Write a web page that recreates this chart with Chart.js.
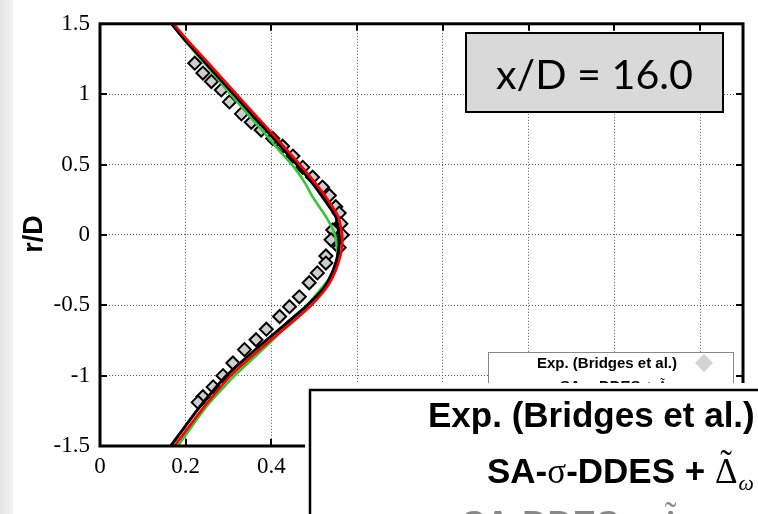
<!DOCTYPE html>
<html>
<head>
<meta charset="utf-8">
<script src="https://cdn.jsdelivr.net/npm/chart.js@4.4.1/dist/chart.umd.min.js"></script>
<style>
  html, body { margin:0; padding:0; background:#fff; }
  #wrap { position:relative; width:758px; height:514px; }
</style>
</head>
<body>
<div id="wrap"><canvas id="ch_perfil"></canvas></div>
<script>
// perfil radial a x/D = 16.0  (x = valor, y = r/D)
const rExp = [1.22, 1.15, 1.09, 1.03, 0.945, 0.86, 0.80, 0.745, 0.685, 0.63, 0.56, 0.48, 0.41, 0.34, 0.28, 0.2, 0.155, 0.08, 0.035, 0.0,
              -0.035, -0.09, -0.15, -0.2, -0.27, -0.34, -0.44, -0.51, -0.58, -0.67, -0.745, -0.815, -0.91, -1.0, -1.08, -1.15, -1.19];
const uExp = [0.221, 0.24, 0.26, 0.283, 0.302, 0.33, 0.353, 0.376, 0.403, 0.426, 0.45, 0.473, 0.496, 0.519, 0.535, 0.55, 0.558, 0.562, 0.543, 0.565,
              0.539, 0.558, 0.527, 0.527, 0.507, 0.488, 0.465, 0.442, 0.419, 0.388, 0.364, 0.337, 0.31, 0.287, 0.264, 0.24, 0.229];

const rSim   = [1.55, 1.5, 1.38, 1.19, 0.98, 0.85, 0.72, 0.6, 0.48, 0.37, 0.27, 0.13, 0.0, -0.1, -0.2, -0.3, -0.39, -0.51, -0.63, -0.79, -1.0, -1.22, -1.5, -1.55];
const uBlack = [0.155, 0.167, 0.2, 0.256, 0.318, 0.356, 0.395, 0.43, 0.465, 0.495, 0.519, 0.55, 0.558, 0.557, 0.55, 0.537, 0.519, 0.48, 0.434, 0.372, 0.295, 0.233, 0.165, 0.153];
const uRed   = [0.16, 0.172, 0.205, 0.262, 0.324, 0.363, 0.402, 0.437, 0.472, 0.502, 0.527, 0.556, 0.565, 0.564, 0.556, 0.543, 0.525, 0.49, 0.445, 0.382, 0.305, 0.243, 0.174, 0.162];

const rSigma = [1.55, 1.5, 1.38, 1.19, 0.98, 0.72, 0.6, 0.48, 0.37, 0.27, 0.13, 0.01, -0.1, -0.2, -0.33, -0.44, -0.53, -0.58, -0.63, -0.79, -1.0, -1.22, -1.48, -1.55];
const uSigma = [0.155, 0.167, 0.198, 0.252, 0.31, 0.385, 0.418, 0.453, 0.478, 0.496, 0.527, 0.547, 0.553, 0.553, 0.53, 0.5, 0.477, 0.463, 0.442, 0.388, 0.314, 0.248, 0.186, 0.17];

const xTicks = [0, 0.2, 0.4, 0.6, 0.8, 1.0, 1.2, 1.4];
const yTicks = [-1.5, -1, -0.5, 0, 0.5, 1, 1.5];

const pts = (us, rs) => us.map((u, i) => ({ x:u, y:rs[i] }));
const SERIF = 'Liberation Serif';
const SANS  = 'Liberation Sans';

// tilde sobre la Delta + subindice omega
function deltaTilde(ctx, x, y, size, color){
  ctx.fillStyle = color;
  ctx.font = `${size}px ${SERIF}`;
  const w = ctx.measureText('\u0394').width;
  ctx.fillText('\u0394', x, y);
  ctx.textAlign = 'center';
  ctx.fillText('\u02DC', x + w/2, y - size*0.22);
  ctx.textAlign = 'left';
  ctx.font = `italic ${size*0.62}px ${SERIF}`;
  ctx.fillText('\u03C9', x + w + 1, y + size*0.2);
}

function legendRow(ctx, x, y, size, color){
  let cx = x;
  ctx.fillStyle = color;
  ctx.textAlign = 'left';
  ctx.font = `bold ${size}px ${SANS}`;
  ctx.fillText('SA-', cx, y); cx += ctx.measureText('SA-').width;
  ctx.font = `${size}px ${SERIF}`;
  ctx.fillText('\u03C3', cx, y); cx += ctx.measureText('\u03C3').width;
  ctx.font = `bold ${size}px ${SANS}`;
  ctx.fillText('-DDES + ', cx, y); cx += ctx.measureText('-DDES + ').width;
  deltaTilde(ctx, cx, y, size, color);
}

const decor = {
  id:'decor',
  beforeDraw(c){
    const { ctx } = c;
    ctx.save();
    const g = ctx.createLinearGradient(0, 0, 13, 0);
    g.addColorStop(0, '#e4e4e4'); g.addColorStop(1, '#f3f3f3');
    ctx.fillStyle = g;
    ctx.fillRect(0, 0, 13, c.height);
    ctx.restore();
  },
  afterDatasetsDraw(c){
    const { ctx, chartArea:a, scales } = c;
    ctx.save();
    ctx.strokeStyle = '#000';
    ctx.lineWidth = 2;
    xTicks.forEach(v => {
      const px = Math.round(scales.x.getPixelForValue(v));
      ctx.beginPath();
      ctx.moveTo(px, a.bottom); ctx.lineTo(px, a.bottom - 7);
      ctx.moveTo(px, a.top);    ctx.lineTo(px, a.top + 7);
      ctx.stroke();
    });
    yTicks.forEach(v => {
      const py = Math.round(scales.y.getPixelForValue(v));
      ctx.beginPath();
      ctx.moveTo(a.left, py);  ctx.lineTo(a.left + 7, py);
      ctx.moveTo(a.right, py); ctx.lineTo(a.right - 7, py);
      ctx.stroke();
    });
    ctx.lineWidth = 3;
    ctx.strokeRect(a.left, a.top, a.right - a.left, a.bottom - a.top);
    ctx.restore();
  },
  afterDraw(c){
    const { ctx } = c;
    ctx.save();

    // titulo eje y
    ctx.translate(42, 234);
    ctx.rotate(-Math.PI/2);
    ctx.fillStyle = '#000';
    ctx.font = `bold 27px ${SANS}`;
    ctx.textAlign = 'center';
    ctx.fillText('r/D', 0, 0);
    ctx.setTransform(1, 0, 0, 1, 0, 0);

    // caja x/D
    ctx.fillStyle = '#d9d9d9';
    ctx.fillRect(466, 33, 257, 79);
    ctx.strokeStyle = '#000';
    ctx.lineWidth = 2;
    ctx.strokeRect(466, 33, 257, 79);
    const lbl = 'x/D = 16.0';
    ctx.font = `100px Lato`;
    const fs = 100 * 197 / ctx.measureText(lbl).width;
    ctx.font = `${fs}px Lato`;
    ctx.fillStyle = '#000';
    ctx.textAlign = 'center';
    ctx.fillText(lbl, 594.5, 89);

    // leyenda chica
    ctx.fillStyle = '#fff';
    ctx.fillRect(488, 352, 245, 40);
    ctx.strokeStyle = '#888';
    ctx.lineWidth = 1;
    ctx.strokeRect(488.5, 352.5, 245, 40);
    ctx.fillStyle = '#000';
    ctx.textAlign = 'left';
    ctx.font = `bold 15px ${SANS}`;
    ctx.fillText('Exp. (Bridges et al.)', 537, 368);
    ctx.fillStyle = '#d3d3d3';
    ctx.beginPath();
    ctx.moveTo(704, 354); ctx.lineTo(713, 363); ctx.lineTo(704, 372); ctx.lineTo(695, 363);
    ctx.closePath(); ctx.fill();
    legendRow(ctx, 560, 391, 15, '#000');

    // leyenda ampliada
    ctx.fillStyle = '#fff';
    ctx.fillRect(305, 383, 460, 140);
    ctx.strokeStyle = '#000';
    ctx.lineWidth = 2.5;
    ctx.strokeRect(310, 390, 470, 160);
    ctx.fillStyle = '#000';
    ctx.textAlign = 'left';
    ctx.font = `bold 35px ${SANS}`;
    ctx.fillText('Exp. (Bridges et al.)', 428, 427);
    legendRow(ctx, 487, 483, 35, '#000');
    ctx.fillStyle = '#888';
    ctx.font = `bold 35px ${SANS}`;
    ctx.fillText('SA-DDES + ', 462, 535);
    deltaTilde(ctx, 462 + ctx.measureText('SA-DDES + ').width, 535, 35, '#888');
    ctx.restore();
  }
};

const el = document.getElementById('ch_perfil');
new Chart(el, {
  type:'scatter',
  data:{ datasets:[
    { label:'Exp. (Bridges et al.)', data:pts(uExp, rExp), showLine:false, pointStyle:'rectRot', pointRadius:6.5,
      backgroundColor:'#cdcdcd', borderColor:'#000', borderWidth:2, order:4 },
    { label:'SA-\u03C3-DDES + \u0394\u0303\u03C9', data:pts(uSigma, rSigma), showLine:true, borderColor:'#35c635',
      borderWidth:2.6, pointRadius:0, tension:0.15, order:3 },
    { label:'sim-a', data:pts(uBlack, rSim), showLine:true, borderColor:'#000', borderWidth:3, pointRadius:0, tension:0.15, order:2 },
    { label:'sim-b', data:pts(uRed, rSim), showLine:true, borderColor:'#ff0000', borderWidth:2.6, pointRadius:0, tension:0.15, order:1 }
  ]},
  options:{
    responsive:true, maintainAspectRatio:false, animation:false,
    layout:{ padding:{ top:23, right:15, left:0, bottom:0 } },
    plugins:{ legend:{ display:false }, tooltip:{ enabled:false } },
    scales:{
      x:{ type:'linear', min:0, max:1.5,
          afterBuildTicks:s => { s.ticks = xTicks.map(v => ({ value:v })); },
          afterFit:s => { s.height = 68; },
          grid:{ color:'#555', lineWidth:1, drawTicks:false },
          border:{ display:false, dash:[1,2] },
          ticks:{ padding:7, color:'#000', maxRotation:0, font:{ family:SERIF, size:23 }, callback:v => String(+v.toFixed(2)) } },
      y:{ type:'linear', min:-1.5, max:1.5,
          afterBuildTicks:s => { s.ticks = yTicks.map(v => ({ value:v })); },
          afterFit:s => { s.width = 100; },
          grid:{ color:'#555', lineWidth:1, drawTicks:false },
          border:{ display:false, dash:[1,2] },
          ticks:{ padding:10, color:'#000', font:{ family:SERIF, size:23 }, callback:v => String(+v.toFixed(2)) } }
    }
  },
  plugins:[decor]
});
</script>
</body>
</html>
